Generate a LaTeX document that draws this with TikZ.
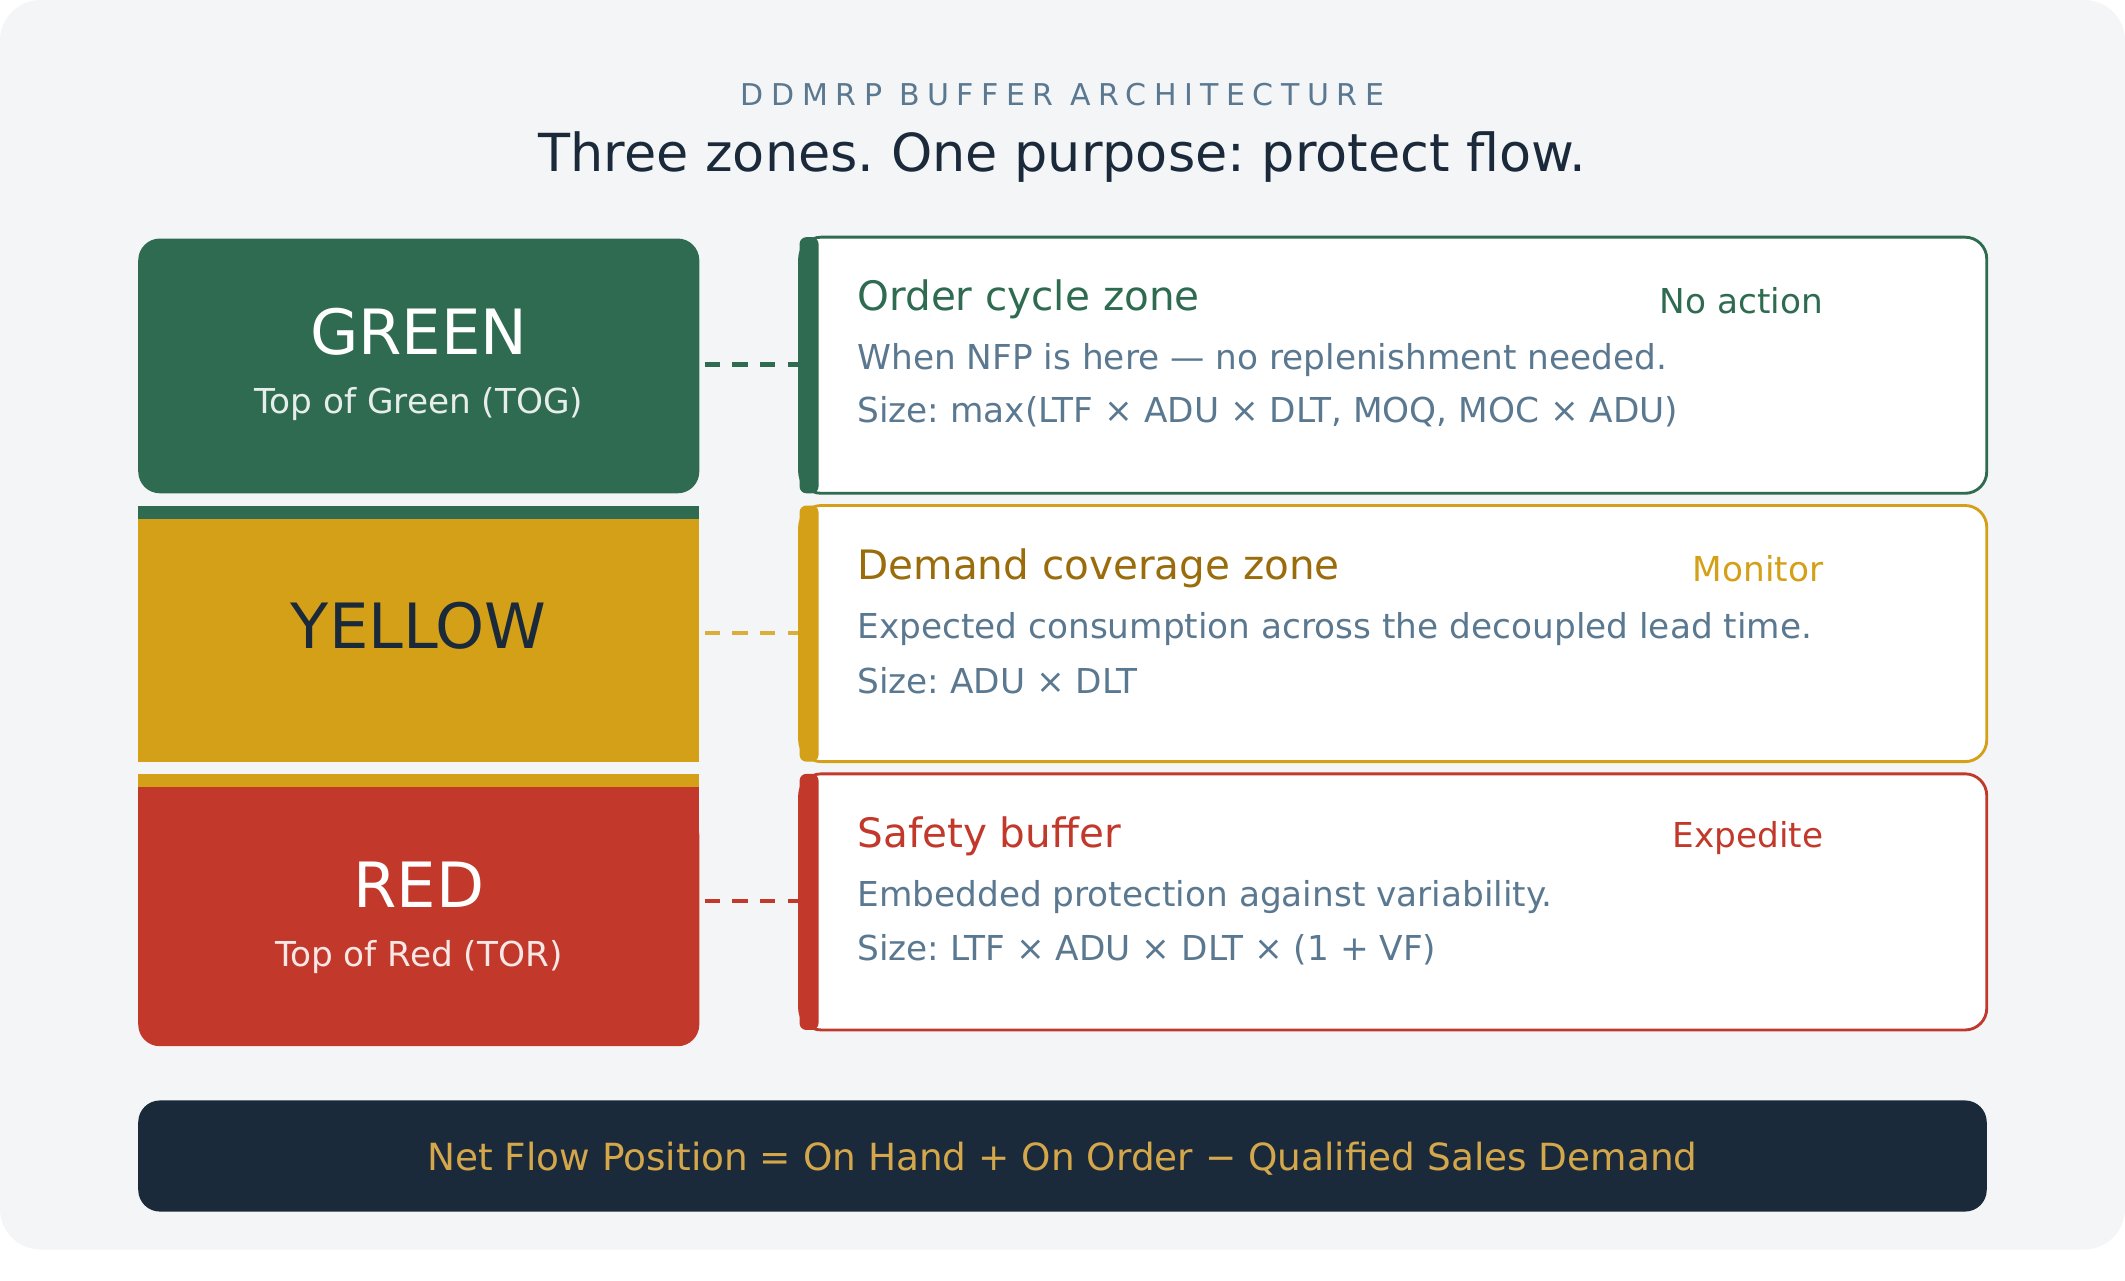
\documentclass[tikz,border=0pt]{standalone}
\usepackage{fontspec}
\setmainfont{DejaVu Sans}
\begin{document}
\frenchspacing
\definecolor{bg}{HTML}{F4F5F7}
\definecolor{gz}{HTML}{2E6B50}
\definecolor{yz}{HTML}{D4A017}
\definecolor{yt}{HTML}{9A6C0B}
\definecolor{rz}{HTML}{C2392B}
\definecolor{navy}{HTML}{1B2A3B}
\definecolor{body}{HTML}{5A7890}
\definecolor{gold}{HTML}{D4A84A}
\begin{tikzpicture}[x=0.01cm,y=-0.01cm,
  lbl/.style={inner sep=0,anchor=west,font=\fontsize{8.5}{10}\selectfont},
  bd/.style={inner sep=0,anchor=west,text=body,font=\fontsize{7.2}{9}\selectfont},
  act/.style={inner sep=0,anchor=east,font=\fontsize{7.2}{9}\selectfont},
  card/.style={draw=#1,line width=0.6pt,fill=white,rounded corners=0.16cm},
  dash/.style={draw=#1,line width=0.9pt,dash pattern=on 3.2pt off 2.6pt}]
\useasboundingbox (0,0) rectangle (1568,945);
\fill[bg,rounded corners=0.3cm] (0,0) rectangle (1568,922);
\node[inner sep=0,text=body,font=\fontsize{6.3}{7}\selectfont\addfontfeature{LetterSpace=25}] (hd) at (784,70) {DDMRP BUFFER ARCHITECTURE};
\node[inner sep=0,text=navy,font=\fontsize{11}{13}\selectfont] (tt) at (784,116) {Three zones. One purpose: protect flow.};
% zones
\fill[gz,rounded corners=0.16cm] (102,176) rectangle (516,364);
\fill[gz] (102,373) rectangle (516,383);
\fill[yz] (102,383) rectangle (516,562);
\fill[yz] (102,571) rectangle (516,581);
\fill[rz,rounded corners=0.16cm] (102,600) rectangle (516,772);
\fill[rz] (102,581) rectangle (516,620);
\node[inner sep=0,text=white,font=\fontsize{13.1}{15}\selectfont] (gn) at (309,245) {GREEN};
\node[inner sep=0,text=white!88!gz,font=\fontsize{7.2}{9}\selectfont] (gs) at (309,298) {Top of Green (TOG)};
\node[inner sep=0,text=navy,font=\fontsize{13.1}{15}\selectfont] (yn) at (309,462) {YELLOW};
\node[inner sep=0,text=white,font=\fontsize{13.1}{15}\selectfont] (rn) at (309,653) {RED};
\node[inner sep=0,text=white!88!rz,font=\fontsize{7.2}{9}\selectfont] (rs) at (309,706) {Top of Red (TOR)};
% connectors
\coordinate (g1) at (520,269); \coordinate (g2) at (590,269);
\coordinate (y1) at (520,467); \coordinate (y2) at (590,467);
\coordinate (r1) at (520,665); \coordinate (r2) at (590,665);
\draw[dash=gz] (g1) -- (g2);
\draw[dash=yz!85!white] (y1) -- (y2);
\draw[dash=rz] (r1) -- (r2);
% cards
\foreach \c/\y in {gz/175,yz/373,rz/571}{
  \draw[card=\c] (590,\y) rectangle (1466,\y+189);
  \fill[\c,rounded corners=0.05cm] (590,\y) rectangle (604,\y+189);
}
\node[lbl,text=gz] (t1) at (632,221) {Order cycle zone};
\node[act,text=gz] (a1) at (1346,222) {No action};
\node[bd] (b1) at (632,266) {When NFP is here — no replenishment needed.};
\node[bd] (c1) at (632,304) {Size: max(LTF × ADU × DLT, MOQ, MOC × ADU)};
\node[lbl,text=yt] (t2) at (632,419) {Demand coverage zone};
\node[act,text=yz] (a2) at (1346,420) {Monitor};
\node[bd] (b2) at (632,464) {Expected consumption across the decoupled lead time.};
\node[bd] (c2) at (632,502) {Size: ADU × DLT};
\node[lbl,text=rz] (t3) at (632,617) {Safety buffer};
\node[act,text=rz] (a3) at (1346,618) {Expedite};
\node[bd] (b3) at (632,662) {Embedded protection against variability.};
\node[bd] (c3) at (632,701) {Size: LTF × ADU × DLT × (1 + VF)};
% bottom
\fill[navy,rounded corners=0.16cm] (102,812) rectangle (1466,894);
\node[inner sep=0,text=gold,font=\fontsize{7.85}{9}\selectfont] (ft) at (784,855) {Net Flow Position = On Hand + On Order − Qualified Sales Demand};
\end{tikzpicture}
\end{document}
